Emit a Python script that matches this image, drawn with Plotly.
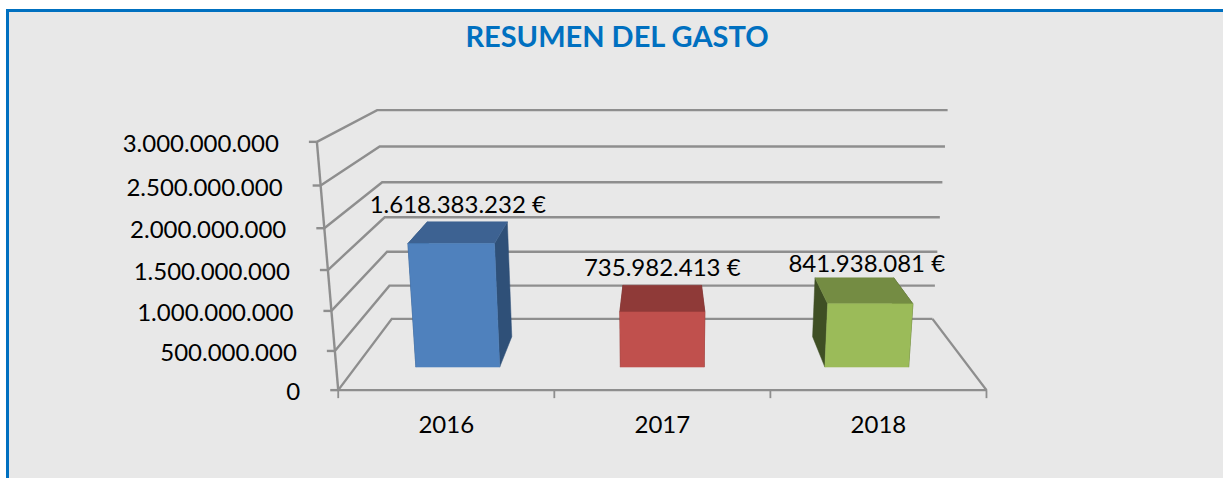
import numpy as np
import plotly.graph_objects as go

TITLE = "RESUMEN DEL GASTO"
YEARS = ["2016", "2017", "2018"]
GASTO = [1618383232, 735982413, 841938081]
BAR_LABELS = ["1.618.383.232 €", "735.982.413 €", "841.938.081 €"]
Y_TICKS = [0, 500000000, 1000000000, 1500000000, 2000000000, 2500000000, 3000000000]
Y_TICK_LABELS = ["0", "500.000.000", "1.000.000.000", "1.500.000.000",
                 "2.000.000.000", "2.500.000.000", "3.000.000.000"]

FRONT = ["#4F81BD", "#C0504D", "#9BBB59"]
TOP = ["#3D6292", "#8F3A38", "#748C43"]
SIDE = ["#2F5078", "#6E2C2A", "#3F4F24"]
GRID = "#8E8E8E"
FONT = "Lato"
W, H = 1223, 478
Y_MAX = 3000000000
BAR_W = 0.41
Z_FRONT, Z_BACK = 0.285, 0.715
LABEL_RISE = [15, 15, 12]

# Camera calibration: box corners (category, value fraction, depth) -> pixel
corners = [((0, 0, 0), (338, 390)), ((3, 0, 0), (987, 390)),
           ((0, 0, 1), (392, 319)), ((3, 0, 1), (932, 319)),
           ((0, 1, 0), (317, 142)), ((3, 1, 0), (1008, 142)),
           ((0, 1, 1), (377, 110)), ((3, 1, 1), (948, 110))]
A, b = [], []
for (X, Y, Z), (u, v) in corners:
    A.append([X, Y, Z, 1, 0, 0, 0, 0, -u * X, -u * Y, -u * Z]); b.append(u)
    A.append([0, 0, 0, 0, X, Y, Z, 1, -v * X, -v * Y, -v * Z]); b.append(v)
p = np.linalg.lstsq(np.array(A, float), np.array(b, float), rcond=None)[0]
P = np.append(p, 1.0).reshape(3, 4)


def proj(cat, value, depth):
    h = P @ np.array([cat, value / Y_MAX, depth, 1.0])
    return float(h[0] / h[2]), float(h[1] / h[2])


fig = go.Figure()


def line(points, width=2.4, color=GRID):
    xs, ys = zip(*points)
    fig.add_trace(go.Scatter(x=xs, y=ys, mode="lines", hoverinfo="skip",
                             line=dict(color=color, width=width)))


def face(points, color):
    xs, ys = zip(*(points + points[:1]))
    fig.add_trace(go.Scatter(x=xs, y=ys, mode="lines", fill="toself", fillcolor=color,
                             hoverinfo="skip", line=dict(color=color, width=0.5)))


# Walls and gridlines
for t in Y_TICKS:
    line([proj(0, t, 0), proj(0, t, 1), proj(3, t, 1)])
    fx, fy = proj(0, t, 0)
    line([(fx - 8, fy), (fx, fy)])
line([proj(0, 0, 0), proj(0, Y_MAX, 0)])
line([proj(0, 0, 0), proj(3, 0, 0), proj(3, 0, 1)])
for i in range(4):
    tx, ty = proj(i, 0, 0)
    line([(tx, ty), (tx, ty + 8)], width=1.8)

# Bars
for i, val in enumerate(GASTO):
    x0, x1 = i + 0.5 - BAR_W / 2, i + 0.5 + BAR_W / 2
    face([proj(x0, 0, Z_FRONT), proj(x0, 0, Z_BACK), proj(x0, val, Z_BACK), proj(x0, val, Z_FRONT)], SIDE[i])
    face([proj(x1, 0, Z_FRONT), proj(x1, 0, Z_BACK), proj(x1, val, Z_BACK), proj(x1, val, Z_FRONT)], SIDE[i])
    face([proj(x0, val, Z_FRONT), proj(x1, val, Z_FRONT), proj(x1, val, Z_BACK), proj(x0, val, Z_BACK)], TOP[i])
    face([proj(x0, 0, Z_FRONT), proj(x1, 0, Z_FRONT), proj(x1, val, Z_FRONT), proj(x0, val, Z_FRONT)], FRONT[i])

# Texts
tick_pts = [proj(0, t, 0) for t in Y_TICKS]
fig.add_trace(go.Scatter(x=[q[0] - 38 for q in tick_pts], y=[q[1] + 4 for q in tick_pts],
                         mode="text", text=Y_TICK_LABELS, textposition="middle left",
                         hoverinfo="skip", textfont=dict(family=FONT, size=24, color="#000000")))
cat_pts = [proj(i + 0.5, 0, 0) for i in range(3)]
fig.add_trace(go.Scatter(x=[q[0] for q in cat_pts], y=[q[1] + 37 for q in cat_pts],
                         mode="text", text=YEARS, textposition="middle center",
                         hoverinfo="skip", textfont=dict(family=FONT, size=24, color="#000000")))
lab_x = [proj(i + 0.5, 0, Z_FRONT)[0] for i in range(3)]
lab_y = [proj(i + 0.5, v, Z_BACK)[1] - LABEL_RISE[i] for i, v in enumerate(GASTO)]
fig.add_trace(go.Scatter(x=lab_x, y=lab_y,
                         mode="text", text=BAR_LABELS, textposition="middle center",
                         hoverinfo="skip", textfont=dict(family=FONT, size=24, color="#000000")))

fig.update_layout(
    width=W, height=H, margin=dict(l=0, r=0, t=0, b=0), showlegend=False,
    paper_bgcolor="#FFFFFF", plot_bgcolor="#FFFFFF",
    xaxis=dict(range=[0, W], visible=False, fixedrange=True),
    yaxis=dict(range=[H, 0], visible=False, fixedrange=True),
    title=dict(text=TITLE, x=617 / W, xanchor="center", y=1 - 37 / H, yanchor="middle",
               font=dict(family=FONT, size=29, color="#0070C0", weight="bold")),
    shapes=[
        dict(type="rect", x0=9, x1=W, y0=12, y1=H, layer="below", fillcolor="#E8E8E8", line_width=0),
        dict(type="rect", x0=6, x1=W, y0=9, y1=12, layer="below", fillcolor="#0070C0", line_width=0),
        dict(type="rect", x0=6, x1=9, y0=9, y1=H, layer="below", fillcolor="#0070C0", line_width=0),
    ],
)
fig.write_html("out.html", post_script="document.body.style.margin='0';document.body.style.overflow='hidden';",
               config={"displayModeBar": False})
